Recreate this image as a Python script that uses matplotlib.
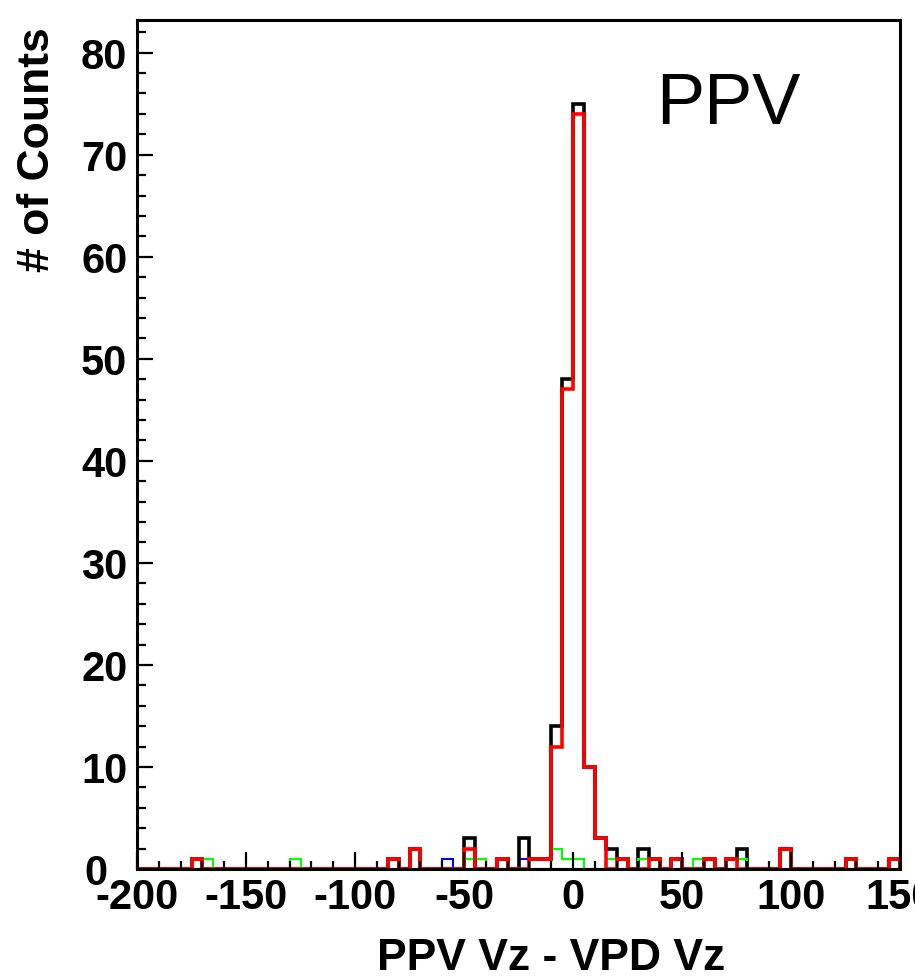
import numpy as np
import matplotlib
matplotlib.use("Agg")
import matplotlib.pyplot as plt
from matplotlib.ticker import MultipleLocator
from matplotlib.transforms import ScaledTranslation

plt.rcParams['font.family'] = ['Liberation Sans', 'DejaVu Sans']
plt.rcParams['axes.unicode_minus'] = False

# ---- data (bin width 5, histogram range -200..150) ----
bin_lo, bin_hi, bin_w = -200, 150, 5

black_left = [-175, -85, -75, -50, -35, -25, -20, -15, -10, -5, 0, 5, 10, 15, 20, 30, 35, 45, 60, 70, 75, 95, 125, 145]
black_counts = [1, 1, 2, 3, 1, 3, 1, 1, 14, 48, 75, 10, 3, 2, 1, 2, 1, 1, 1, 1, 2, 2, 1, 1]

red_left = [-175, -85, -75, -50, -35, -20, -15, -10, -5, 0, 5, 10, 20, 35, 45, 60, 70, 95, 125, 145]
red_counts = [1, 1, 2, 2, 1, 1, 1, 12, 47, 74, 10, 3, 1, 1, 1, 1, 1, 2, 1, 1]

green_left = [-170, -130, -50, -45, -10, -5, 0, 15, 30, 55, 75]
green_counts = [1, 1, 1, 1, 2, 1, 1, 1, 1, 1, 1]

blue_left = [-60, -25]
blue_counts = [1, 1]

x_ticks = [-200, -150, -100, -50, 0, 50, 100, 150]
y_ticks = [0, 10, 20, 30, 40, 50, 60, 70, 80]

edges = np.arange(bin_lo, bin_hi + bin_w, bin_w)


def full(lefts, counts):
    arr = np.zeros(len(edges) - 1)
    for l, c in zip(lefts, counts):
        arr[int(round((l - bin_lo) / bin_w))] = c
    return arr


W, H = 915, 979
fig = plt.figure(figsize=(W / 100, H / 100), dpi=100)
ax = fig.add_axes([137 / W, 1 - 870 / H, (900 - 137) / W, (870 - 21) / H])

ax.stairs(full(blue_left, blue_counts), edges, color='#0000ff', lw=1.5, zorder=1.1)
ax.stairs(full(black_left, black_counts), edges, color='black', lw=2.6, zorder=1.2)
ax.stairs(full(green_left, green_counts), edges, color='#00ff00', lw=1.5, zorder=1.3)
ax.stairs(full(red_left, red_counts), edges, color='#ff0000', lw=2.6, zorder=1.4)

ax.set_xlim(-200, 150)
ax.set_ylim(0, 83.2)

ax.set_xticks(x_ticks)
ax.set_xticklabels([str(v) for v in x_ticks])
ax.set_yticks(y_ticks)
ax.set_yticklabels([str(v) for v in y_ticks])
ax.xaxis.set_minor_locator(MultipleLocator(10))
ax.yaxis.set_minor_locator(MultipleLocator(2))

ax.tick_params(axis='both', which='both', direction='in', top=False, right=False, width=1.6)
ax.tick_params(axis='x', which='major', length=12, pad=6, labelsize=30)
ax.tick_params(axis='x', which='minor', length=6)
ax.tick_params(axis='y', which='major', length=11.5, pad=7, labelsize=30)
ax.tick_params(axis='y', which='minor', length=6.5)
for lab in ax.get_xticklabels() + ax.get_yticklabels():
    lab.set_fontweight('bold')

# the "0" label on the y axis sits further left in the reference
ylab0 = ax.get_yticklabels()[0]
ylab0.set_transform(ylab0.get_transform() + ScaledTranslation(-0.2, 0, fig.dpi_scale_trans))

for s in ax.spines.values():
    s.set_linewidth(2.2)

ax.set_xlabel('PPV Vz - VPD Vz', fontsize=32, fontweight='bold')
ax.xaxis.set_label_coords(0.543, -0.080)
ax.set_ylabel('# of Counts', fontsize=32, fontweight='bold')
ax.yaxis.set_label_coords(-0.104, 0.848)

ax.text(0.681, 0.940, 'PPV', transform=ax.transAxes, fontsize=52,
        ha='left', va='top', color='black')

fig.savefig('out.png', dpi=100)
